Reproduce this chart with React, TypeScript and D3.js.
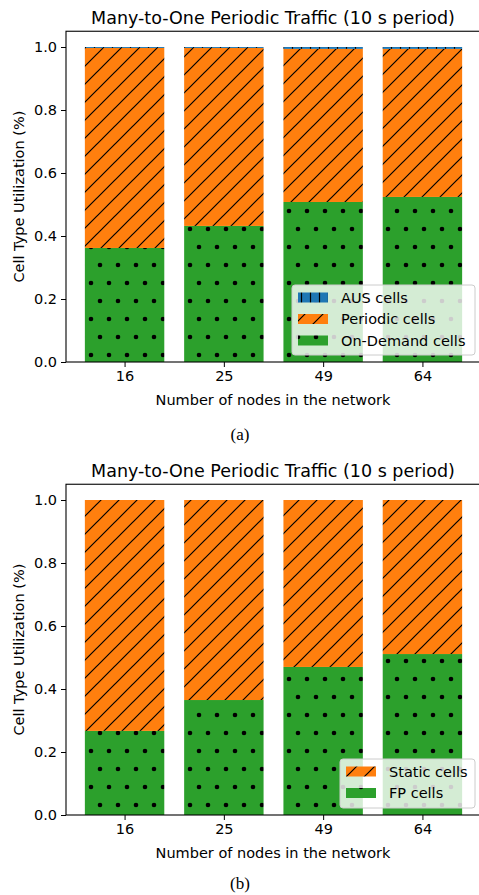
import React, { useEffect, useRef } from "react"
import * as d3 from "d3"

// categories and tick labels
const nodeCounts = ["16", "25", "49", "64"]
const yTicks = [0, 0.2, 0.4, 0.6, 0.8, 1.0]

// (a) stacked from bottom: On-Demand, Periodic, AUS
const onDemandCells = [0.362, 0.432, 0.508, 0.524]
const periodicCells = [0.635, 0.565, 0.486, 0.47]
const ausCells = [0.003, 0.003, 0.006, 0.006]

// (b) stacked from bottom: FP, Static
const fpCells = [0.267, 0.365, 0.47, 0.511]
const staticCells = [0.733, 0.635, 0.53, 0.489]

const W = 479
const H = 895
const FONT = "'DejaVu Sans', sans-serif"
const TITLE = "Many-to-One Periodic Traffic (10 s period)"

const panels = [
	{
		top: 31.25,
		bottom: 362,
		caption: "(a)",
		captionY: 440,
		series: [
			{ name: "On-Demand cells", values: onDemandCells, fill: "url(#dots)" },
			{ name: "Periodic cells", values: periodicCells, fill: "url(#slash)" },
			{ name: "AUS cells", values: ausCells, fill: "url(#vbar)" },
		],
		legend: { x: 292, y: 285, w: 183, h: 70 },
	},
	{
		top: 484.25,
		bottom: 815,
		caption: "(b)",
		captionY: 889,
		series: [
			{ name: "FP cells", values: fpCells, fill: "url(#dots)" },
			{ name: "Static cells", values: staticCells, fill: "url(#slash)" },
		],
		legend: { x: 340, y: 759, w: 135, h: 49 },
	},
]

const App = () => {
	const ref = useRef(null)

	useEffect(() => {
		const svg = d3.select(ref.current)
		svg.selectAll("*").remove()

		// hatch patterns
		const defs = svg.append("defs")
		const dots = defs
			.append("pattern")
			.attr("id", "dots")
			.attr("patternUnits", "userSpaceOnUse")
			.attr("x", 6)
			.attr("y", 9)
			.attr("width", 18)
			.attr("height", 36)
		dots.append("rect").attr("width", 18).attr("height", 36).attr("fill", "#2ca02c")
		;[[4, 4], [13, 22]].forEach(([cx, cy]) =>
			dots.append("circle").attr("cx", cx).attr("cy", cy).attr("r", 2.3).attr("fill", "#000"),
		)

		const slash = defs
			.append("pattern")
			.attr("id", "slash")
			.attr("patternUnits", "userSpaceOnUse")
			.attr("x", 7)
			.attr("width", 18)
			.attr("height", 18)
		slash.append("rect").attr("width", 18).attr("height", 18).attr("fill", "#ff7f0e")
		slash
			.append("path")
			.attr("d", "M-4.5,4.5L4.5,-4.5M0,18L18,0M13.5,22.5L22.5,13.5")
			.attr("stroke", "#000")
			.attr("stroke-width", 1.2)

		const vbar = defs
			.append("pattern")
			.attr("id", "vbar")
			.attr("patternUnits", "userSpaceOnUse")
			.attr("width", 9)
			.attr("height", 9)
		vbar.append("rect").attr("width", 9).attr("height", 9).attr("fill", "#1f77b4")
		vbar.append("path").attr("d", "M4.5,0V9").attr("stroke", "#000").attr("stroke-width", 1.2)

		const x = d3.scaleLinear().domain([-0.59, 3.59]).range([66, 481])

		panels.forEach(p => {
			const g = svg.append("g")
			const y = d3.scaleLinear().domain([0, 1.05]).range([p.bottom, p.top])

			// stacked bars
			const stacked = nodeCounts.map((_, i) => {
				let acc = 0
				return p.series.map(s => {
					const y0 = acc
					acc += s.values[i]
					return { y0, y1: acc, fill: s.fill }
				})
			})
			stacked.forEach((segs, i) => {
				g.selectAll(null)
					.data(segs)
					.join("rect")
					.attr("x", x(i - 0.4))
					.attr("width", x(i + 0.4) - x(i - 0.4))
					.attr("y", d => y(d.y1))
					.attr("height", d => y(d.y0) - y(d.y1))
					.attr("fill", d => d.fill)
			})

			// axes
			const yAxis = g
				.append("g")
				.attr("transform", "translate(66,0)")
				.call(
					d3
						.axisLeft(y)
						.tickValues(yTicks)
						.tickFormat(d3.format(".1f"))
						.tickSize(5)
						.tickPadding(4),
				)
			const xAxis = g
				.append("g")
				.attr("transform", `translate(0,${p.bottom})`)
				.call(
					d3
						.axisBottom(x)
						.tickValues([0, 1, 2, 3])
						.tickFormat(i => nodeCounts[i])
						.tickSize(5)
						.tickPadding(4),
				)
			;[yAxis, xAxis].forEach(a => {
				a.select(".domain").remove()
				a.selectAll("text")
					.style("font-family", FONT)
					.style("font-size", "14.5px")
					.attr("fill", "#000")
				a.selectAll("line").attr("stroke", "#000").attr("stroke-width", 1)
			})

			// spines
			g.append("rect")
				.attr("x", 66)
				.attr("y", p.top)
				.attr("width", 415)
				.attr("height", p.bottom - p.top)
				.attr("fill", "none")
				.attr("stroke", "#000")
				.attr("stroke-width", 1.1)

			// title & labels
			g.append("text")
				.attr("x", 273)
				.attr("y", p.top - 7.5)
				.attr("text-anchor", "middle")
				.style("font-family", FONT)
				.style("font-size", "17.5px")
				.text(TITLE)
			g.append("text")
				.attr("x", 273)
				.attr("y", p.bottom + 43)
				.attr("text-anchor", "middle")
				.style("font-family", FONT)
				.style("font-size", "14.5px")
				.text("Number of nodes in the network")
			g.append("text")
				.attr("transform", `translate(24,${(p.top + p.bottom) / 2}) rotate(-90)`)
				.attr("text-anchor", "middle")
				.style("font-family", FONT)
				.style("font-size", "14.5px")
				.text("Cell Type Utilization (%)")
			g.append("text")
				.attr("x", 240)
				.attr("y", p.captionY)
				.attr("text-anchor", "middle")
				.style("font-family", "'Liberation Serif', serif")
				.style("font-size", "17px")
				.text(p.caption)

			// legend, top entry is the last series
			const L = p.legend
			const lg = g.append("g")
			lg.append("rect")
				.attr("x", L.x)
				.attr("y", L.y)
				.attr("width", L.w)
				.attr("height", L.h)
				.attr("rx", 3)
				.attr("fill", "#fff")
				.attr("fill-opacity", 0.8)
				.attr("stroke", "#ccc")
			const items = [...p.series].reverse()
			items.forEach((s, k) => {
				const cy = L.y + 12.5 + k * 21.5
				lg.append("rect")
					.attr("x", L.x + 6)
					.attr("y", cy - 5)
					.attr("width", 30)
					.attr("height", 10)
					.attr("fill", s.fill)
				lg.append("text")
					.attr("x", L.x + 49)
					.attr("y", cy + 5)
					.style("font-family", FONT)
					.style("font-size", "14.5px")
					.text(s.name)
			})
		})
	}, [])

	return (
		<svg
			ref={ref}
			width={W}
			height={H}
			style={{ position: "absolute", left: 0, top: 0, background: "#fff" }}
		></svg>
	)
}

export default App
